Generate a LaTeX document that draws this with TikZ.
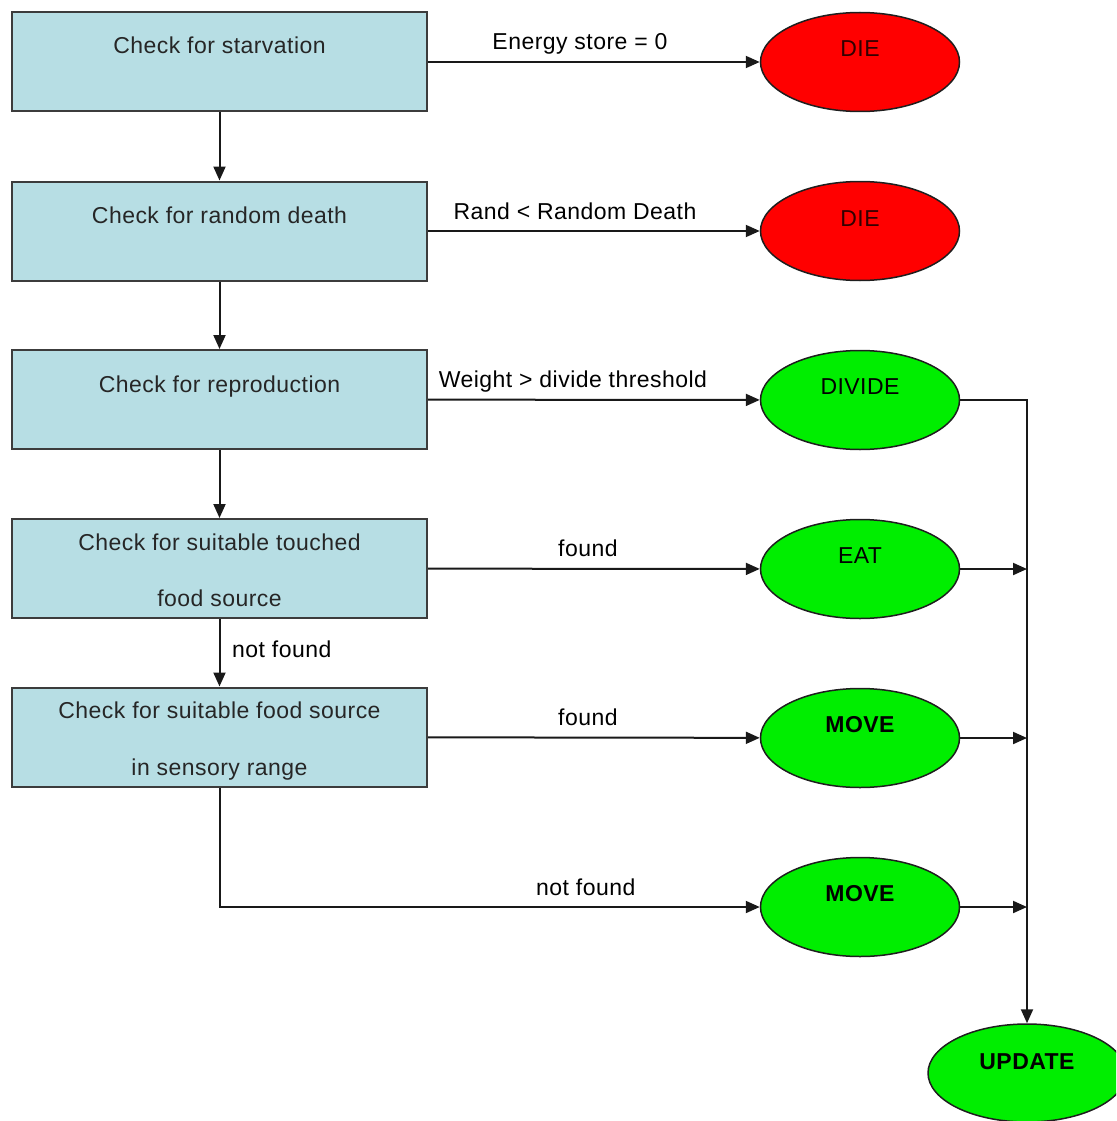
\documentclass[tikz,border=0pt]{standalone}
\usepackage{fontspec}
\setmainfont{Liberation Sans}[LetterSpace=2]
\usetikzlibrary{arrows.meta,shapes.geometric}
\definecolor{boxfill}{RGB}{183,222,228}
\definecolor{boxline}{RGB}{60,60,60}
\definecolor{ovred}{RGB}{255,0,0}
\definecolor{ovgreen}{RGB}{0,238,0}
\definecolor{ovline}{RGB}{30,30,30}
\begin{document}
\begin{tikzpicture}[x=1pt,y=-1pt,
  font=\fontsize{23}{27}\selectfont,
  box/.style={rectangle, draw=boxline, line width=2pt, fill=boxfill,
    minimum width=415pt, minimum height=99pt, inner sep=0pt},
  oval/.style={ellipse, draw=ovline, line width=1.5pt,
    minimum width=199pt, minimum height=99pt, inner sep=0pt},
  redov/.style={oval, fill=ovred},
  greenov/.style={oval, fill=ovgreen},
  btxt/.style={inner sep=0pt, anchor=base, text=black!85},
  otxt/.style={inner sep=0pt, anchor=base},
  elbl/.style={inner sep=0pt, anchor=base, yshift=12pt},
  conn/.style={line width=2pt, draw=black!90, -{Triangle[length=14pt,width=12pt]}},
  plain/.style={line width=2pt, draw=black!90}]
\useasboundingbox (0,0) rectangle (1116,1121);
\clip (0,0) rectangle (1116,1121);

% process boxes
\node[box] (b1) at (219.5,62) {};
\node[box] (b2) at (219.5,231) {};
\node[box] (b3) at (219.5,399.5) {};
\node[box] (b4) at (219.5,568.5) {};
\node[box] (b5) at (219.5,737) {};

\node[btxt] (t1) at (219.5,54) {Check for starvation};
\node[btxt] (t2) at (219.5,223) {Check for random death};
\node[btxt] (t3) at (219.5,392) {Check for reproduction};
\node[btxt] (t4a) at (219.5,550) {Check for suitable touched};
\node[btxt] (t4b) at (219.5,606) {food source};
\node[btxt] (t5a) at (219.5,718) {Check for suitable food source};
\node[btxt] (t5b) at (219.5,775) {in sensory range};

% outcome ellipses
\node[redov] (die1) at (860,62) {};
\node[redov] (die2) at (860,231) {};
\node[greenov] (div) at (860,400) {};
\node[greenov] (eat) at (860,569) {};
\node[greenov] (mv1) at (860,738) {};
\node[greenov] (mv2) at (860,907) {};
\node[greenov, minimum width=198pt, minimum height=98pt] (upd) at (1027,1073) {};

\node[otxt, text=black!80!red] (o1) at (860,57) {DIE};
\node[otxt, text=black!80!red] (o2) at (860,226) {DIE};
\node[otxt] (o3) at (860,394) {DIVIDE};
\node[otxt] (o4) at (860,563) {EAT};
\node[otxt, font=\fontsize{23}{27}\selectfont\bfseries] (o5) at (860,732) {MOVE};
\node[otxt, font=\fontsize{23}{27}\selectfont\bfseries] (o6) at (860,901) {MOVE};
\node[otxt, font=\fontsize{23}{27}\selectfont\bfseries] (o7) at (1027,1069) {UPDATE};

% vertical flow
\draw[conn] (b1) -- (b2);
\draw[conn] (b2) -- (b3);
\draw[conn] (b3) -- (b4);
\draw[conn] (b4) -- (b5);
\node[inner sep=0pt, anchor=base west] (nf1) at (232,657) {not found};

% horizontal decisions
\draw[conn] (b1) -- node[elbl, pos=0.458] (l1) {Energy store = 0} (die1);
\draw[conn] (b2) -- node[elbl, pos=0.443] (l2) {Rand < Random Death} (die2);
\draw[conn] (b3) -- node[elbl, pos=0.437] (l3) {Weight > divide threshold} (div);
\draw[conn] (b4) -- node[elbl, pos=0.482] (l4) {found} (eat);
\draw[conn] (b5) -- node[elbl, pos=0.482] (l5) {found} (mv1);
\draw[conn] (b5.south) |- node[elbl, pos=0.839] (l6) {not found} (mv2);

% collection to UPDATE
\draw[conn] (div.east) -| (upd);
\draw[conn] (eat.east) -- (eat -| upd);
\draw[conn] (mv1.east) -- (mv1 -| upd);
\draw[conn] (mv2.east) -- (mv2 -| upd);
\end{tikzpicture}
\end{document}
